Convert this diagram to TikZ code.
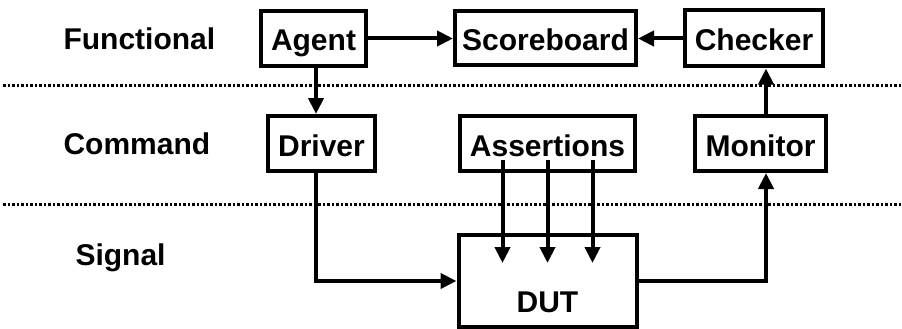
\documentclass[tikz,border=0pt]{standalone}
\usepackage{fontspec}
\setmainfont{Liberation Sans}
\usepackage{tikz}
\usetikzlibrary{positioning, arrows.meta}

\begin{document}
\begin{tikzpicture}[x=1pt, y=-1pt,
        font=\fontsize{30}{36}\selectfont\bfseries,
        box/.style={rectangle, draw, line width=4pt, inner sep=0pt, minimum height=55pt, text height=27pt, text depth=2pt},
        arr/.style={line width=4pt, -{Triangle[length=16pt, width=15pt]}},
        sep/.style={line width=3pt, dash pattern=on 2.6pt off 1.9pt}]
        \useasboundingbox (0,0) rectangle (902,329);

        \node[box, minimum width=105pt](agent) at (313.5,38.5){Agent};
        \node[box, minimum width=181pt, minimum height=54pt](scoreboard)[right = 85pt of agent]{Scoreboard};
        \node[box, minimum width=138pt, minimum height=56pt](checker)[right = 45pt of scoreboard]{Checker};

        \node[box, minimum width=107pt](driver)[below = 46pt of agent, xshift=8pt]{Driver};
        \node[box, minimum width=175pt](assertions)[right = 81pt of driver]{Assertions};
        \node[box, minimum width=131pt](monitor)[right = 56pt of assertions]{Monitor};

        \node[box, minimum width=178pt, minimum height=92pt, text height=62pt, text depth=0pt](dut)[below = 60pt of assertions]{DUT};

        \node[anchor=base west](functional) at (60,50){Functional};
        \node[anchor=base west](command) at (60,154){Command};
        \node[anchor=base west](signal) at (72,265){Signal};

        \draw[sep] (3,85) -- (902,85);
        \draw[sep] (3,204) -- (902,204);

        \path[arr]
        (agent) edge (scoreboard)
        (checker) edge (scoreboard)
        ([xshift=2.5pt]agent.south) edge ([xshift=-5.5pt]driver.north)
        ([xshift=5.5pt]monitor.north) edge ([xshift=12pt]checker.south);

        \draw[arr] ([xshift=-5.5pt]driver.south) |- (dut.west);
        \draw[arr] (dut.east) -| ([xshift=5.5pt]monitor.south);

        \foreach \dx in {-45,0,45}
            \draw[arr] ([xshift=\dx pt, yshift=13pt]assertions.south) -- ([xshift=\dx pt, yshift=-30pt]dut.north);
    \end{tikzpicture}
\end{document}
